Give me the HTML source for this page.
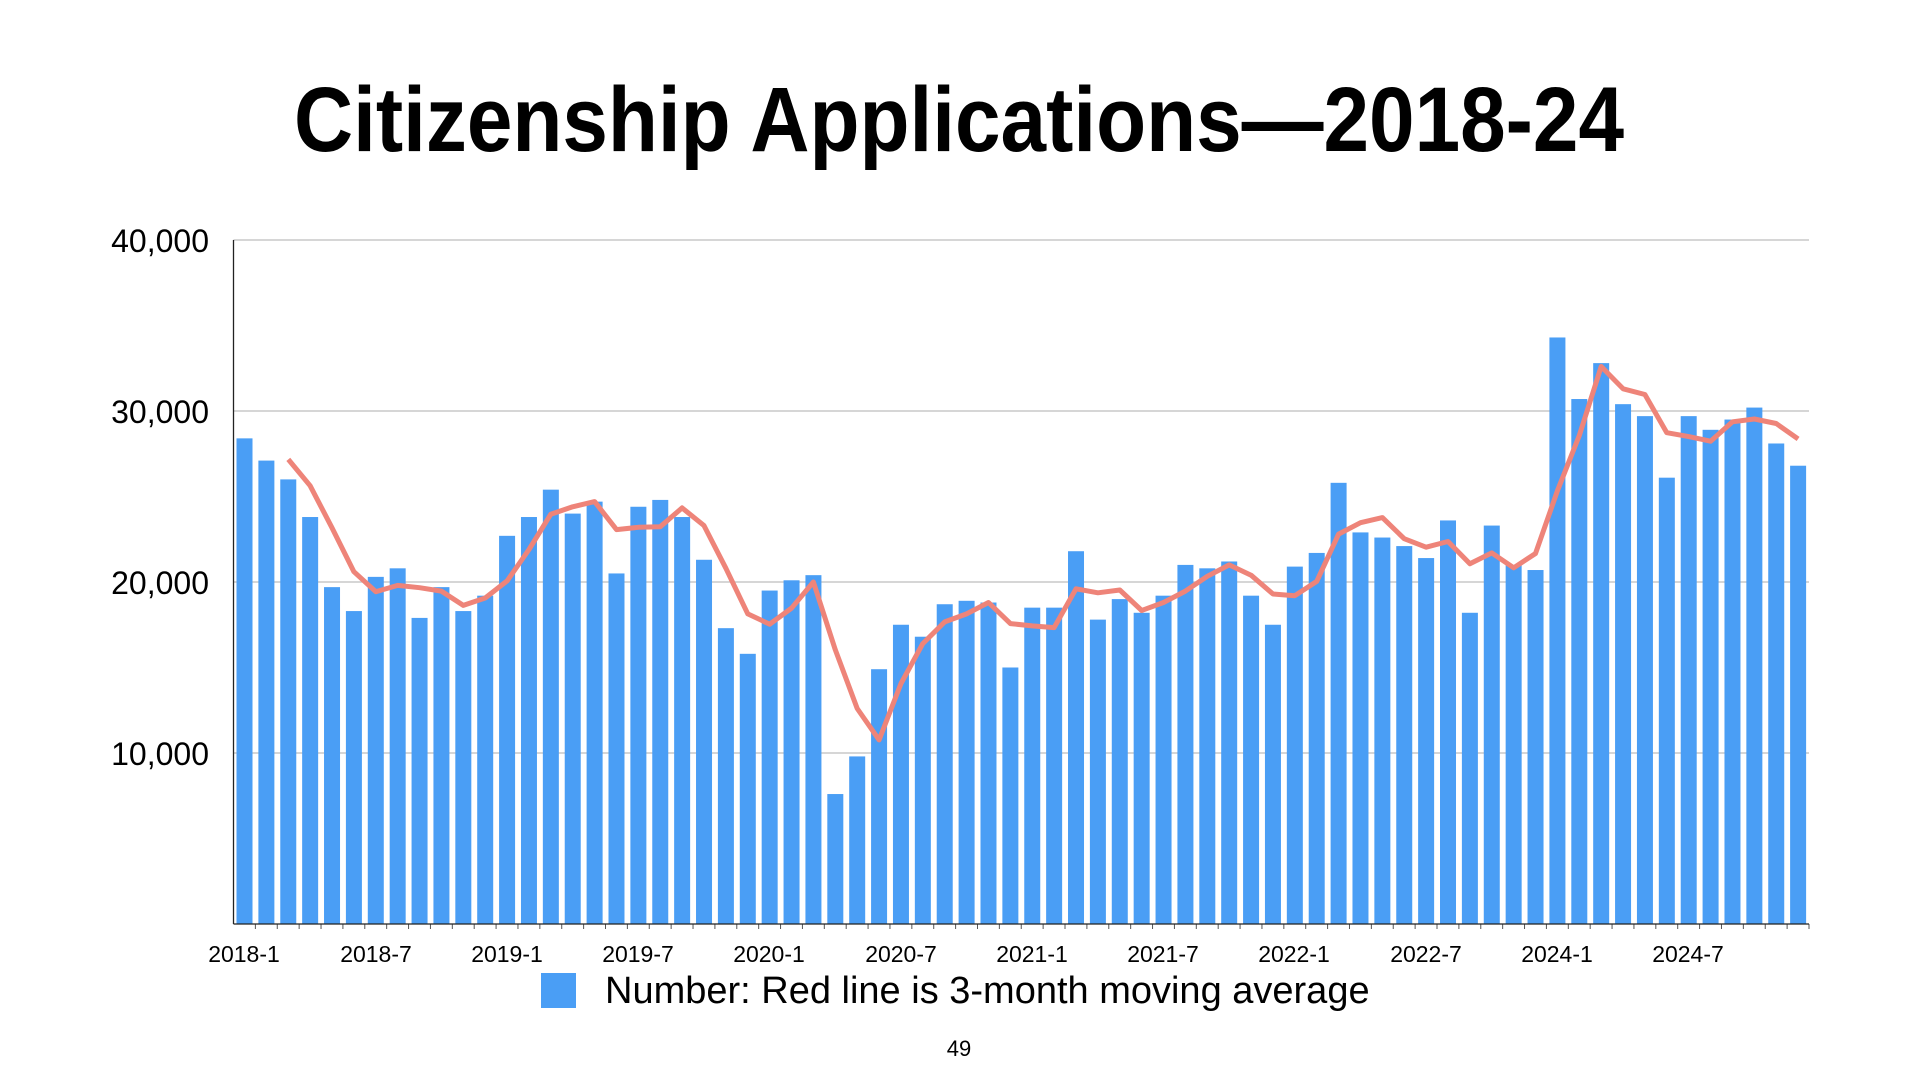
<!DOCTYPE html>
<html><head><meta charset="utf-8"><style>
html,body{margin:0;padding:0;background:#fff;}
svg{display:block;font-family:"Liberation Sans",Arial,sans-serif;}
</style></head><body>
<svg id="s" width="1920" height="1080" viewBox="0 0 1920 1080" xmlns="http://www.w3.org/2000/svg">
<rect width="1920" height="1080" fill="#fff"/>
<text x="959" y="151" text-anchor="middle" font-size="92" font-weight="bold" textLength="1330" lengthAdjust="spacingAndGlyphs">Citizenship Applications—2018-24</text>
<g stroke="#bdbdbd" stroke-width="1.2">
<line x1="233.5" y1="240" x2="1809" y2="240"/>
<line x1="233.5" y1="411" x2="1809" y2="411"/>
<line x1="233.5" y1="582" x2="1809" y2="582"/>
<line x1="233.5" y1="753" x2="1809" y2="753"/>
</g>
<g font-size="32" text-anchor="end" fill="#000">
<text x="209" y="252">40,000</text>
<text x="209" y="423">30,000</text>
<text x="209" y="594">20,000</text>
<text x="209" y="765">10,000</text>
</g>
<g id="bars" fill="#4a9ef5"></g>
<g id="ticks" stroke="#555" stroke-width="1"></g>
<line x1="233.5" y1="240" x2="233.5" y2="924" stroke="#222" stroke-width="1.3"/>
<line x1="233.5" y1="924" x2="1809" y2="924" stroke="#222" stroke-width="1.3"/>
<polyline id="ma" fill="none" stroke="#ee8479" stroke-width="5" stroke-linejoin="round"/>
<g font-size="23" text-anchor="middle" fill="#000">
<text x="244" y="962">2018-1</text>
<text x="376" y="962">2018-7</text>
<text x="507" y="962">2019-1</text>
<text x="638" y="962">2019-7</text>
<text x="769" y="962">2020-1</text>
<text x="901" y="962">2020-7</text>
<text x="1032" y="962">2021-1</text>
<text x="1163" y="962">2021-7</text>
<text x="1294" y="962">2022-1</text>
<text x="1426" y="962">2022-7</text>
<text x="1557" y="962">2024-1</text>
<text x="1688" y="962">2024-7</text>
</g>
<rect x="541" y="973" width="35" height="35" fill="#4a9ef5"/>
<text x="605" y="1003" font-size="38">Number: Red line is 3-month moving average</text>
<text x="959" y="1056" font-size="22" text-anchor="middle">49</text>
</svg>
<script>
var d=[28.4,27.1,26.0,23.8,19.7,18.3,20.3,20.8,17.9,19.7,18.3,19.2,
22.7,23.8,25.4,24.0,24.7,20.5,24.4,24.8,23.8,21.3,17.3,15.8,
19.5,20.1,20.4,7.6,9.8,14.9,17.5,16.8,18.7,18.9,18.8,15.0,
18.5,18.5,21.8,17.8,19.0,18.2,19.2,21.0,20.8,21.2,19.2,17.5,
20.9,21.7,25.8,22.9,22.6,22.1,21.4,23.6,18.2,23.3,21.0,20.7,
34.3,30.7,32.8,30.4,29.7,26.1,29.7,28.9,29.5,30.2,28.1,26.8];
var ns="http://www.w3.org/2000/svg",x0=233.5,w=1575.5/72,b=924,k=17.1;
var bars=document.getElementById("bars"),ticks=document.getElementById("ticks"),pts=[];
for(var i=0;i<72;i++){
 var r=document.createElementNS(ns,"rect"),x=x0+w*i+3;
 r.setAttribute("x",x);r.setAttribute("width",16);
 r.setAttribute("y",b-d[i]*k);r.setAttribute("height",d[i]*k);bars.appendChild(r);
 var t=document.createElementNS(ns,"line"),tx=x0+w*(i+1);
 t.setAttribute("x1",tx);t.setAttribute("x2",tx);t.setAttribute("y1",b);t.setAttribute("y2",b+5);ticks.appendChild(t);
 if(i>=2){var a=(d[i]+d[i-1]+d[i-2])/3;pts.push((x0+w*i+11).toFixed(1)+","+(b-a*k).toFixed(1));}
}
document.getElementById("ma").setAttribute("points",pts.join(" "));
</script>
</body></html>
